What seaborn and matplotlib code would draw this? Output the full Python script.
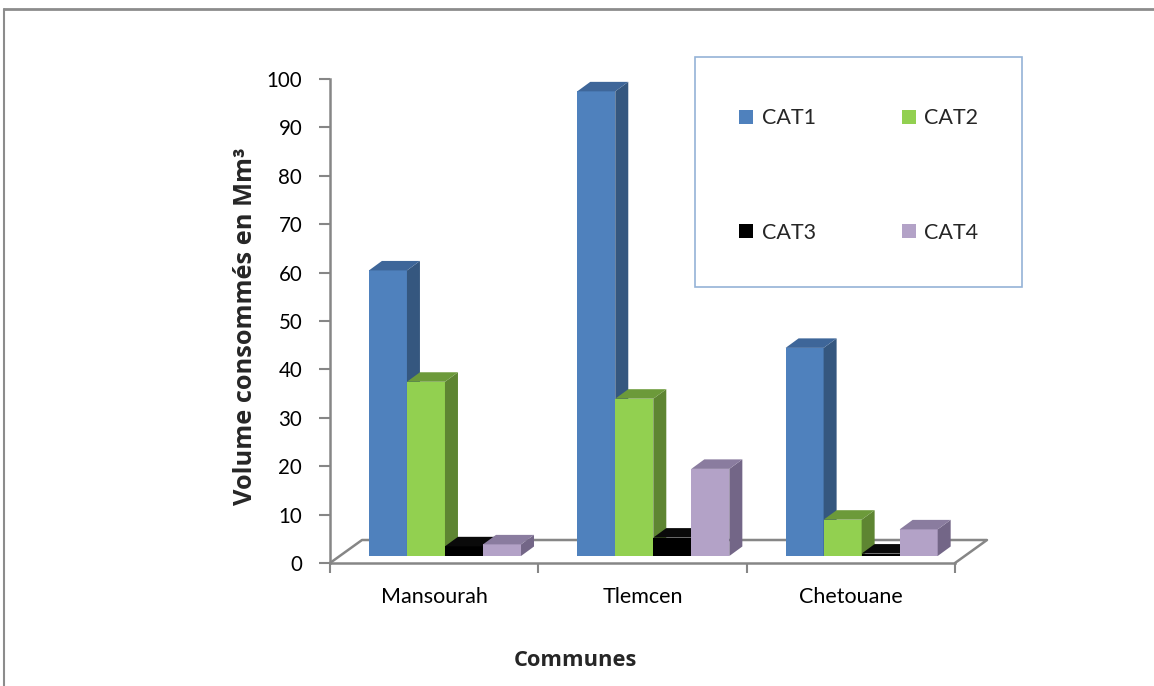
import matplotlib
matplotlib.use("Agg")
import matplotlib.pyplot as plt
import matplotlib.transforms as mtransforms
from matplotlib.patches import Polygon, Patch, Rectangle
from matplotlib.lines import Line2D
import seaborn as sns
import pandas as pd

# ---- data -------------------------------------------------------------
communes = ["Mansourah", "Tlemcen", "Chetouane"]
series = ["CAT1", "CAT2", "CAT3", "CAT4"]
cat1 = [59, 96, 43]
cat2 = [36, 32.5, 7.5]
cat3 = [2, 3.8, 0.5]
cat4 = [2.4, 18, 5.5]
yticks = list(range(0, 101, 10))

front_colors = ["#4F81BD", "#92D050", "#000000", "#B3A2C7"]
side_colors = ["#35577F", "#5E8532", "#000000", "#736687"]
top_colors = ["#3E6699", "#6C9A3A", "#0A0A0A", "#8A7C9F"]

rows = []
for name, vals in zip(series, [cat1, cat2, cat3, cat4]):
    for c, v in zip(communes, vals):
        rows.append({"Commune": c, "Série": name, "Volume": v})
df = pd.DataFrame(rows)

# ---- style ------------------------------------------------------------
sns.set_theme(style="white")
plt.rcParams["font.family"] = ["Lato", "DejaVu Sans"]
BOLD_FAMILY = ["Open Sans", "DejaVu Sans"]
GRAY = "#868686"

W, H = 1154, 686
fig = plt.figure(figsize=(W / 100, H / 100), dpi=100)
fig.patch.set_facecolor("white")

# plot area in pixels: x 330..955, y 79..563
ax = fig.add_axes([330 / W, (H - 563) / H, 625 / W, 484 / H])
ax.set_facecolor("none")

sns.barplot(data=df, x="Commune", y="Volume", hue="Série",
            order=communes, hue_order=series, palette=front_colors,
            saturation=1, width=0.73, errorbar=None, legend=False,
            linewidth=0, ax=ax)

ax.set_xlim(-0.5, 2.5)
ax.set_ylim(0, 100)

# data units per pixel
ux = 3.0 / 625
uy = 100.0 / 484

# front faces sit slightly inside the floor (oblique projection)
shift = mtransforms.ScaledTranslation(10.8 / 100, 7 / 100, fig.dpi_scale_trans)
dx, dy = 13 * ux, 9.5 * uy          # bar depth
sx, sy = 10.8 * ux, 7 * uy          # front-face offset

for s, cont in enumerate(ax.containers):
    for bar in cont.patches:
        bar.set_transform(ax.transData + shift)
        bar.set_zorder(3 + s * 0.1)
        x0 = bar.get_x() + sx
        x1 = x0 + bar.get_width()
        y0 = sy
        y1 = bar.get_height() + sy
        side = Polygon([(x1, y0), (x1 + dx, y0 + dy), (x1 + dx, y1 + dy), (x1, y1)],
                       closed=True, facecolor=side_colors[s], edgecolor="none",
                       zorder=3 + s * 0.1 + 0.01, clip_on=False)
        top = Polygon([(x0, y1), (x1, y1), (x1 + dx, y1 + dy), (x0 + dx, y1 + dy)],
                      closed=True, facecolor=top_colors[s], edgecolor="none",
                      zorder=3 + s * 0.1 + 0.01, clip_on=False)
        ax.add_patch(side)
        ax.add_patch(top)

# floor outline
fdx, fdy = 32 * ux, 23 * uy
floor = Line2D([-0.5, -0.5 + fdx, 2.5 + fdx, 2.5],
               [0, fdy, fdy, 0], color=GRAY, lw=1.8, zorder=1, clip_on=False)
ax.add_line(floor)

# axes lines and ticks
for side_name in ["top", "right"]:
    ax.spines[side_name].set_visible(False)
for side_name in ["left", "bottom"]:
    ax.spines[side_name].set_color(GRAY)
    ax.spines[side_name].set_linewidth(1.8)
    ax.spines[side_name].set_zorder(2)

ax.set_yticks(yticks)
ax.set_yticklabels([str(t) for t in yticks])
ax.tick_params(axis="y", which="major", direction="out", length=8, width=1.5,
               color=GRAY, labelsize=14.8, pad=12, labelcolor="black", left=True)
ax.set_xticks(range(len(communes)))
ax.set_xticklabels(communes)
ax.set_xticks([-0.5, 0.5, 1.5, 2.5], minor=True)
ax.tick_params(axis="x", which="major", length=0, labelsize=15.5, pad=17,
               labelcolor="black")
ax.tick_params(axis="x", which="minor", direction="out", length=7, width=1.5,
               color=GRAY, bottom=True)

ax.set_xlabel("")
ax.set_ylabel("")

renderer = fig.canvas.get_renderer()


def fitted_text(x, y, s, target_px, rotation=0):
    """Bold title text sized so that its long side spans target_px pixels."""
    t = fig.text(x, y, s, rotation=rotation, ha="center", va="center",
                 fontsize=15, fontweight="bold", family=BOLD_FAMILY)
    bb = t.get_window_extent(renderer)
    span = bb.height if rotation else bb.width
    t.set_fontsize(15 * target_px / span)
    return t


fitted_text(245 / W, 1 - 326 / H, "Volume consommés en Mm³", 357, rotation=90)
fitted_text(575 / W, 1 - 661 / H, "Communes", 123)

# legend frame
fig.add_artist(Rectangle((695 / W, 1 - 287 / H), 327 / W, 230 / H,
                         transform=fig.transFigure, facecolor="white",
                         edgecolor="#95B3D7", linewidth=1.2, zorder=4))

# legend entries (row-wise order: CAT1 CAT2 / CAT3 CAT4)
handles = [Patch(facecolor=front_colors[i], edgecolor="none", label=series[i])
           for i in (0, 2, 1, 3)]
leg = fig.legend(handles=handles, ncol=2, loc="upper left",
                 bbox_to_anchor=(739 / W, 1 - 108.5 / H), bbox_transform=fig.transFigure,
                 frameon=False, fontsize=15.5,
                 handlelength=0.65, handleheight=0.65, handletextpad=0.4,
                 columnspacing=4.0, labelspacing=4.37, borderpad=0,
                 borderaxespad=0)
leg.set_zorder(5)

# outer chart border
fig.add_artist(Line2D([4 / W, 4 / W], [0, 1 - 9 / H], color="#8C8C8C", lw=1.5,
                      transform=fig.transFigure))
fig.add_artist(Line2D([4 / W, 1], [1 - 9 / H, 1 - 9 / H], color="#8C8C8C", lw=2,
                      transform=fig.transFigure))

fig.savefig("out.png", dpi=100)
